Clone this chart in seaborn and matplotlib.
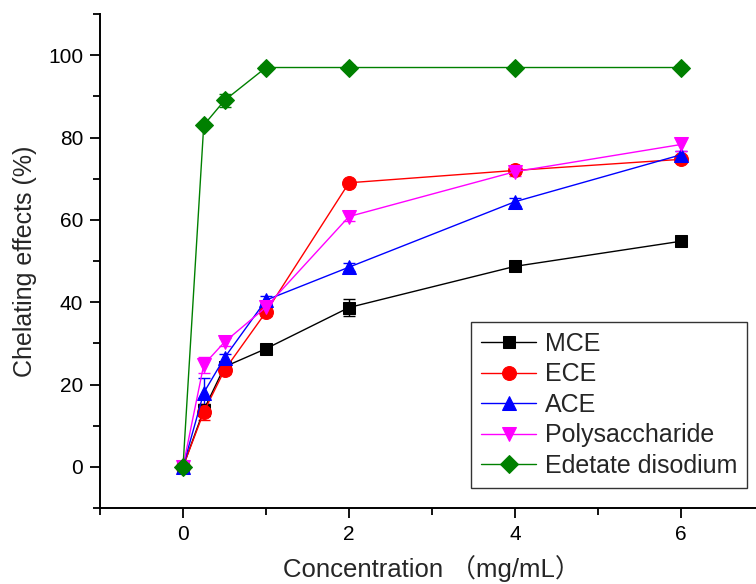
import matplotlib
matplotlib.use("Agg")
import matplotlib.pyplot as plt
import seaborn as sns
from matplotlib.ticker import MultipleLocator

concentration = [0, 0.25, 0.5, 1, 2, 4, 6]

mce = [0, 13.8, 24.3, 28.7, 38.7, 48.7, 54.8]
ece = [0, 13.3, 23.5, 37.6, 69.0, 72.0, 74.7]
ace = [0, 18.0, 26.5, 40.5, 48.5, 64.4, 75.8]
poly = [0, 24.8, 30.3, 38.8, 60.8, 71.7, 78.3]
edta = [0, 83.0, 89.0, 97.0, 97.0, 97.0, 97.0]

mce_err = [0.5, 1.5, 1.0, 0.5, 2.0, 0.5, 0.5]
ece_err = [0.5, 2.0, 1.0, 1.0, 0.5, 0.8, 0.5]
ace_err = [0.5, 3.5, 1.0, 1.0, 1.0, 1.0, 1.0]
poly_err = [0.5, 2.0, 1.0, 1.0, 1.0, 1.0, 1.5]
edta_err = [0.5, 0.5, 1.5, 0.5, 0.5, 0.5, 0.5]

SERIES = [
    ("MCE", mce, mce_err, "black", "s", 9),
    ("ECE", ece, ece_err, "red", "o", 10),
    ("ACE", ace, ace_err, "blue", "^", 10),
    ("Polysaccharide", poly, poly_err, "magenta", "v", 10),
    ("Edetate disodium", edta, edta_err, "green", "D", 9),
]


def main() -> None:
    sns.set_style("ticks")
    plt.rcParams["font.family"] = ["Liberation Sans", "Noto Sans CJK SC"]

    fig = plt.figure(figsize=(7.56, 5.84), dpi=100)
    # axes run slightly past the right edge, as in the cropped original
    ax = fig.add_axes([100 / 756, 76 / 584, 664 / 756, 494 / 584])

    for name, vals, errs, color, marker, ms in SERIES:
        ax.errorbar(concentration, vals, yerr=errs, fmt="none",
                    ecolor=color, elinewidth=1, capsize=4, capthick=1,
                    zorder=2)
        sns.lineplot(x=concentration, y=vals, ax=ax, color=color,
                     marker=marker, markersize=ms, markeredgecolor=color,
                     linewidth=1, label=name, zorder=3)

    ax.set_xlim(-1, 7)
    ax.set_ylim(-10, 110)
    ax.xaxis.set_major_locator(MultipleLocator(2))
    ax.xaxis.set_minor_locator(MultipleLocator(1))
    ax.yaxis.set_minor_locator(MultipleLocator(10))
    ax.set_yticks([0, 20, 40, 60, 80, 100])
    ax.tick_params(which="both", direction="out", width=1.3, colors="black",
                   labelsize=15)
    ax.tick_params(which="major", length=7, pad=5)
    ax.tick_params(which="minor", length=5)
    for side in ("left", "bottom"):
        ax.spines[side].set_linewidth(1.4)
        ax.spines[side].set_color("black")
    sns.despine(ax=ax)

    ax.set_xlabel("Concentration （mg/mL）", fontsize=18.5, labelpad=8)
    ax.set_ylabel("Chelating effects (%)", fontsize=18, labelpad=8)

    leg = ax.legend(loc="upper left", bbox_to_anchor=(0.559, 0.377),
                    borderaxespad=0, fontsize=18, frameon=True,
                    fancybox=False, framealpha=1, edgecolor="#333333",
                    handlelength=2.2, handletextpad=0.35, labelspacing=0.26,
                    borderpad=0.4)
    leg.get_frame().set_linewidth(1)

    fig.savefig("out.png", dpi=100)
    plt.close(fig)


if __name__ == "__main__":
    main()
